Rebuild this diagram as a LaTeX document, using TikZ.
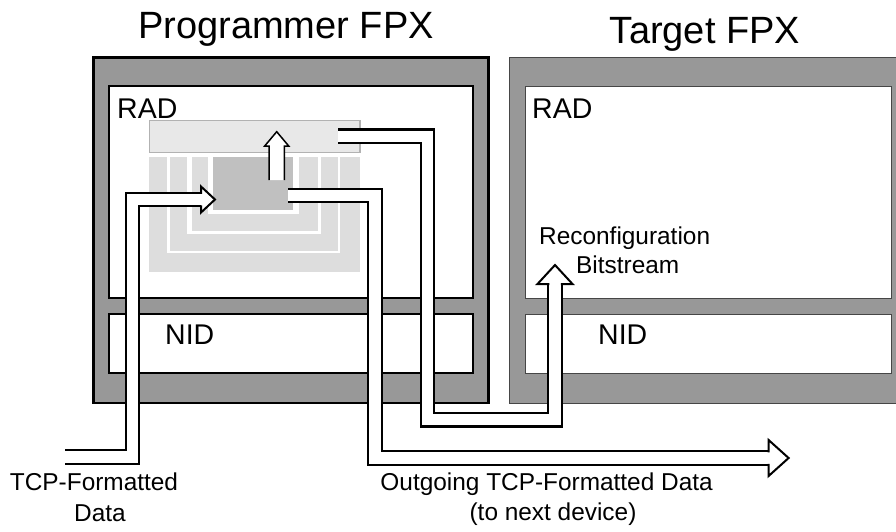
\documentclass[tikz,border=0pt]{standalone}
\usepackage{fontspec}
\setmainfont{Liberation Sans}
\definecolor{fpxgray}{RGB}{152,152,152}
\definecolor{ulight}{RGB}{221,221,221}
\definecolor{barfill}{RGB}{232,232,232}
\definecolor{barline}{RGB}{178,178,178}
\definecolor{corefill}{RGB}{192,192,192}
\definecolor{thinline}{RGB}{70,70,70}
\begin{document}
\begin{tikzpicture}[x=1pt,y=-1pt,
  box/.style={rectangle, inner sep=0pt, outer sep=0pt, anchor=north west},
  progouter/.style={box, draw=black, fill=fpxgray, line width=2.5pt},
  proginner/.style={box, draw=black, fill=white, line width=2.5pt},
  targouter/.style={box, draw=thinline, fill=fpxgray, line width=1pt},
  targinner/.style={box, draw=thinline, fill=white, line width=1pt},
  plain/.style={box, draw=none},
  pipe/.style={draw=black, line width=2.2pt, double=white, double distance=11.5pt, line join=miter},
  headshape/.style={draw=black, fill=white, line width=2pt, line join=miter},
  smallhead/.style={draw=black, fill=white, line width=1.5pt, line join=miter},
  title/.style={inner sep=0pt, anchor=base, font=\fontsize{38}{45}\selectfont},
  blocklabel/.style={inner sep=0pt, anchor=base west, font=\fontsize{28.5}{34}\selectfont},
  small/.style={inner sep=0pt, font=\fontsize{24.4}{29}\selectfont},
]
\useasboundingbox (0,0) rectangle (896,531);
\clip (0,0) rectangle (896,531);

% titles
\node[title] (ptitle) at (286,38) {Programmer FPX};
\node[title] (ttitle) at (705,43) {Target FPX};

% programmer FPX
\node[progouter, minimum width=395pt, minimum height=345.7pt] (prog) at (93.3,57.3) {};
\node[proginner, minimum width=364pt, minimum height=212pt] (prad) at (109,86) {};
\node[proginner, minimum width=364pt, minimum height=59pt] (pnid) at (109,314) {};

% target FPX
\node[targouter, minimum width=400pt, minimum height=345.7pt] (targ) at (509.3,57.3) {};
\node[targinner, minimum width=366pt, minimum height=212pt] (trad) at (525,86) {};
\node[targinner, minimum width=366pt, minimum height=59pt] (tnid) at (525,314) {};

% inner structure of programmer RAD
\node[box, draw=barline, fill=barfill, line width=1.5pt, minimum width=210.7pt, minimum height=32pt] (bar) at (149.3,120.7) {};
\node[plain, fill=ulight, minimum width=210.7pt, minimum height=114.4pt] (u1) at (149.3,157.3) {};
\node[plain, fill=white, minimum width=172.7pt, minimum height=96pt] (g1) at (167.3,157.3) {};
\node[plain, fill=ulight, minimum width=168.3pt, minimum height=93.7pt] (u2) at (170,157.3) {};
\node[plain, fill=white, minimum width=134.3pt, minimum height=76.7pt] (g2) at (186.7,157.3) {};
\node[plain, fill=ulight, minimum width=126.6pt, minimum height=73.4pt] (u3) at (191.7,157.3) {};
\node[plain, fill=white, minimum width=91pt, minimum height=57pt] (g3) at (208.3,157.3) {};
\node[plain, fill=corefill, minimum width=80pt, minimum height=52.7pt] (core) at (213.3,157.3) {};

% labels
\node[blocklabel] (pradl) at (117,118) {RAD};
\node[blocklabel] (pnidl) at (165,344) {NID};
\node[blocklabel] (tradl) at (532,118) {RAD};
\node[blocklabel] (tnidl) at (598,344) {NID};
\node[small, anchor=base west] (recon) at (539,244.3) {Reconfiguration};
\node[small, anchor=base west] (bits) at (576,273.3) {Bitstream};
\node[small, anchor=base] (tcp1) at (94,490) {TCP-Formatted};
\node[small, anchor=base] (tcp2) at (100,521.5) {Data};
\node[small, anchor=base] (out1) at (546.6,490) {Outgoing TCP-Formatted Data};
\node[small, anchor=base] (out2) at (553,520) {(to next device)};

% small up arrow from core into bar
\draw[smallhead] (269,180) -- (269,146) -- (264.7,146) -- (276.7,131.7)
  -- (288.7,146) -- (284.3,146) -- (284.3,180);

% waypoints
\coordinate (in0) at (65,457);
\coordinate (in1) at (132.5,457);
\coordinate (in2) at (132.5,199.5);
\coordinate (in3) at (201,199.5);

\coordinate (o0) at (288.3,195.5);
\coordinate (o1) at (375,195.5);
\coordinate (o2) at (375,458);
\coordinate (o3) at (768.6,458);

\coordinate (b0) at (338.3,136.3);
\coordinate (b1) at (427.5,136.3);
\coordinate (b2) at (427.5,419.7);
\coordinate (b3) at (555,419.7);
\coordinate (b4) at (555,284);

% incoming data pipe into the core
\draw[pipe] (in0) -- (in1) -- (in2) -- (in3);
\draw[headshape] ([yshift=-5.75pt]in3) -- ([yshift=-13pt]in3) -- ([xshift=14pt]in3)
  -- ([yshift=13pt]in3) -- ([yshift=5.75pt]in3);

% outgoing data pipe
\draw[pipe] (o0) -- (o1) -- (o2) -- (o3);
\draw[headshape] ([yshift=-5.75pt]o3) -- ([yshift=-18pt]o3) -- ([xshift=20pt]o3)
  -- ([yshift=18pt]o3) -- ([yshift=5.75pt]o3);

% reconfiguration bitstream pipe
\draw[pipe] (b0) -- (b1) -- (b2) -- (b3) -- (b4);
\draw[headshape] ([xshift=-5.75pt]b4) -- ([xshift=-17.5pt]b4) -- ([yshift=19pt]b4)
  -- ([xshift=17.5pt]b4) -- ([xshift=5.75pt]b4);
\end{tikzpicture}
\end{document}
